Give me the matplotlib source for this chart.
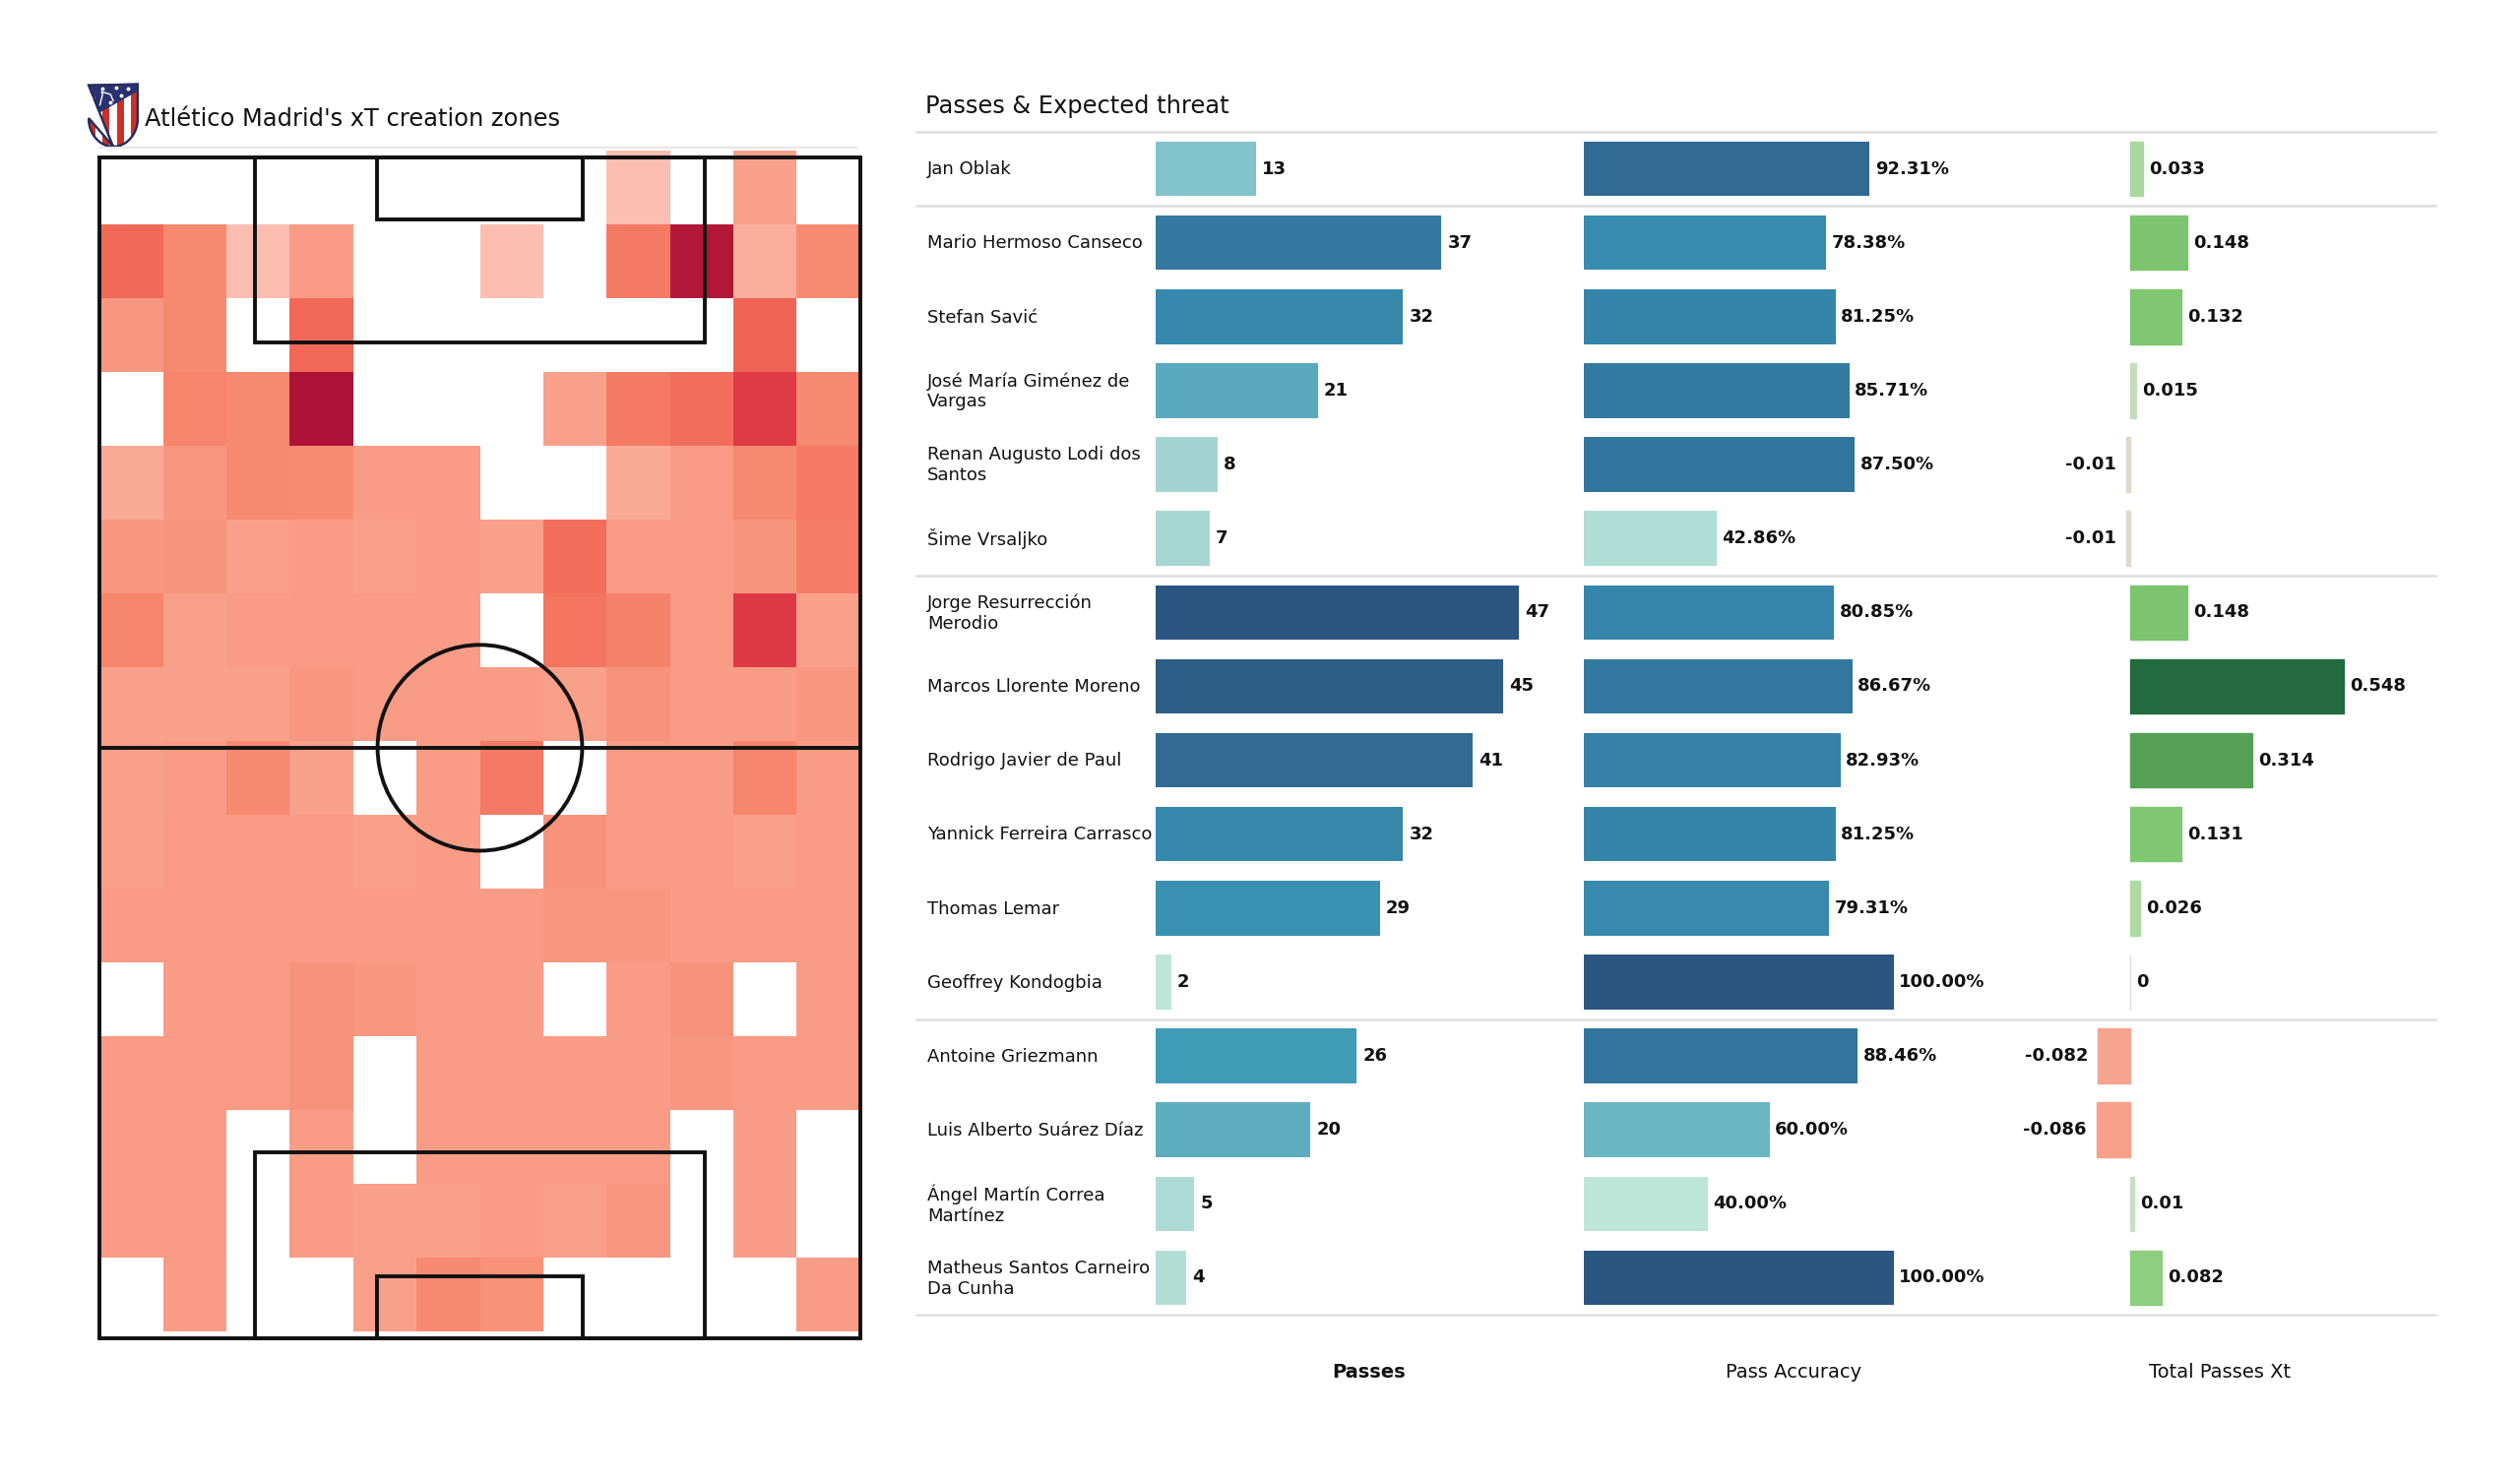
import numpy as np
import matplotlib
matplotlib.use("Agg")
import matplotlib.pyplot as plt
from matplotlib.colors import LinearSegmentedColormap, TwoSlopeNorm, Normalize
from matplotlib.patches import Rectangle, Circle, Polygon
from matplotlib.lines import Line2D
import matplotlib.transforms as mtransforms

# ---------------- data ----------------
N = np.nan
# xT created per zone (rows: top of the pitch -> bottom, cols: left -> right)
zone_xt = np.array([
    [N, N, N, N, N, N, N, N, 0.03, N, 0.18, N],
    [0.52, 0.31, 0.03, 0.20, N, N, 0.03, N, 0.42, 0.97, 0.10, 0.30],
    [0.23, 0.31, N, 0.52, N, N, N, N, N, N, 0.54, N],
    [N, 0.34, 0.31, 1.00, N, N, N, 0.18, 0.42, 0.49, 0.75, 0.31],
    [0.13, 0.23, 0.31, 0.30, 0.20, 0.20, N, N, 0.13, 0.21, 0.31, 0.42],
    [0.23, 0.24, 0.18, 0.20, 0.18, 0.20, 0.18, 0.49, 0.20, 0.21, 0.24, 0.40],
    [0.34, 0.18, 0.20, 0.21, 0.20, 0.20, N, 0.45, 0.36, 0.20, 0.76, 0.18],
    [0.18, 0.18, 0.18, 0.23, 0.20, 0.20, 0.20, 0.18, 0.25, 0.20, 0.20, 0.23],
    [0.18, 0.20, 0.31, 0.18, N, 0.20, 0.42, N, 0.21, 0.20, 0.34, 0.20],
    [0.18, 0.21, 0.20, 0.20, 0.18, 0.20, N, 0.25, 0.20, 0.20, 0.18, 0.20],
    [0.21, 0.21, 0.21, 0.20, 0.20, 0.20, 0.20, 0.23, 0.23, 0.20, 0.21, 0.20],
    [N, 0.20, 0.21, 0.25, 0.23, 0.21, 0.20, N, 0.21, 0.25, N, 0.21],
    [0.21, 0.21, 0.21, 0.25, N, 0.20, 0.20, 0.20, 0.20, 0.23, 0.21, 0.20],
    [0.21, 0.21, N, 0.20, N, 0.20, 0.20, 0.20, 0.20, N, 0.20, N],
    [0.21, 0.21, N, 0.20, 0.18, 0.18, 0.20, 0.18, 0.23, N, 0.20, N],
    [N, 0.20, N, N, 0.18, 0.31, 0.26, N, N, N, N, 0.20],
])

players = [
    "Jan Oblak", "Mario Hermoso Canseco", "Stefan Savić",
    "José María Giménez de\nVargas", "Renan Augusto Lodi dos\nSantos",
    "Šime Vrsaljko", "Jorge Resurrección\nMerodio", "Marcos Llorente Moreno",
    "Rodrigo Javier de Paul", "Yannick Ferreira Carrasco", "Thomas Lemar",
    "Geoffrey Kondogbia", "Antoine Griezmann", "Luis Alberto Suárez Díaz",
    "Ángel Martín Correa\nMartínez", "Matheus Santos Carneiro\nDa Cunha",
]
passes = [13, 37, 32, 21, 8, 7, 47, 45, 41, 32, 29, 2, 26, 20, 5, 4]
pass_accuracy = [92.31, 78.38, 81.25, 85.71, 87.50, 42.86, 80.85, 86.67,
                 82.93, 81.25, 79.31, 100.00, 88.46, 60.00, 40.00, 100.00]
passes_xt = [0.033, 0.148, 0.132, 0.015, -0.01, -0.01, 0.148, 0.548,
             0.314, 0.131, 0.026, 0, -0.082, -0.086, 0.01, 0.082]
group_bounds = [-0.5, 0.5, 5.5, 11.5, 15.5]
column_titles = ["Passes", "Pass Accuracy", "Total Passes Xt"]
left_title = "Atlético Madrid's xT creation zones"
right_title = "Passes & Expected threat"

# ---------------- styles ----------------
reds = LinearSegmentedColormap.from_list("zones", [
    (0.00, "#fdc4b8"), (0.10, "#fbae9b"), (0.18, "#f9a08a"), (0.25, "#f8937b"),
    (0.33, "#f7866c"), (0.42, "#f47a64"), (0.50, "#f26c5a"), (0.60, "#ee5a4d"),
    (0.75, "#df3b45"), (1.00, "#ae1236")])
blues = LinearSegmentedColormap.from_list("blues", [
    (0.00, "#bde5d8"), (0.05, "#b0dcd7"), (0.13, "#a4d5d2"), (0.24, "#83c3cc"),
    (0.33, "#6cb6c3"), (0.42, "#5aabbe"), (0.53, "#3f9bb6"), (0.60, "#3a91b1"),
    (0.67, "#3688ad"), (0.78, "#33789e"), (0.87, "#316b93"), (0.96, "#2c5e87"),
    (1.00, "#2b5682")])
xt_cmap = LinearSegmentedColormap.from_list("xt", [
    (0.00, "#f26c5a"), (0.28, "#f7a08a"), (0.47, "#e3d6c6"), (0.50, "#dcdcd0"),
    (0.51, "#c9e0c0"), (0.53, "#a9d79c"), (0.575, "#8dcf7e"), (0.635, "#7cc46e"),
    (0.787, "#56a055"), (1.00, "#236b3e")])

W, H = 2560, 1504
fig = plt.figure(figsize=(25.6, 15.04), dpi=100)
fig.patch.set_facecolor("white")


def add_axes_px(left, top, right, bottom):
    return fig.add_axes([left / W, 1 - bottom / H, (right - left) / W, (bottom - top) / H])


def fx(px):
    return px / W


def fy(py):
    return 1 - py / H


# ---------------- pitch + heatmap ----------------
L, Wd = 105.0, 68.0
axp = add_axes_px(90, 145, 885, 1371.4)
axp.set_xlim(-1, 69)
axp.set_ylim(-1, 106.3)
axp.axis("off")

x_edges = np.linspace(0, Wd, zone_xt.shape[1] + 1)
y_edges = np.linspace(L, 0, zone_xt.shape[0] + 1) + 0.6
axp.pcolormesh(x_edges, y_edges, np.ma.masked_invalid(zone_xt), cmap=reds,
               vmin=0, vmax=1, zorder=1, shading="flat")

lc, lw = "#111111", 2.8
axp.add_patch(Rectangle((0, 0), Wd, L, fill=False, ec=lc, lw=lw, zorder=3))
axp.plot([0, Wd], [L / 2, L / 2], color=lc, lw=lw, zorder=3)
axp.add_patch(Circle((Wd / 2, L / 2), 9.15, fill=False, ec=lc, lw=lw, zorder=3))
for y0, d in [(0, 1), (L, -1)]:
    pw, ph = 40.32, 16.5
    axp.add_patch(Rectangle((Wd / 2 - pw / 2, y0), pw, d * ph, fill=False, ec=lc, lw=lw, zorder=3))
    sw, sh = 18.32, 5.5
    axp.add_patch(Rectangle((Wd / 2 - sw / 2, y0), sw, d * sh, fill=False, ec=lc, lw=lw, zorder=3))

fig.add_artist(Line2D([fx(101), fx(870)], [fy(150), fy(150)], color="#e6e6e6", lw=1.5))

# ---------------- logo ----------------
axl = add_axes_px(88, 84, 142, 150)
axl.set_xlim(0, 1)
axl.set_ylim(0, 1.22)
axl.axis("off")
th = np.linspace(0, np.pi / 2, 30)
right_side = np.column_stack([0.5 + 0.46 * np.cos(th), 0.55 - 0.53 * np.sin(th)])
left_side = np.column_stack([0.5 - 0.46 * np.cos(th[::-1]), 0.55 - 0.53 * np.sin(th[::-1])])
shield_pts = np.vstack([[[0.04, 1.17], [0.96, 1.19]], right_side, left_side[::-1]])
shield = Polygon(shield_pts, closed=True, fc="white", ec="#252d5f", lw=1.6, zorder=1)
axl.add_patch(shield)
sx = np.linspace(0.04, 0.96, 8)
for k in range(7):
    r = Rectangle((sx[k], 0), sx[k + 1] - sx[k], 1.2,
                  fc="#cc3128" if k % 2 == 0 else "white", ec="none", zorder=2)
    axl.add_patch(r)
    r.set_clip_path(shield)
blue = Polygon([[0, 1.25], [1, 1.25], [1, 1.08], [0, 0.52]], closed=True,
               fc="#2a3370", ec="none", zorder=3)
axl.add_patch(blue)
blue.set_clip_path(shield)
for (px_, py_) in [(0.12, 0.72), (0.12, 0.95), (0.3, 1.1), (0.55, 1.12), (0.78, 1.1), (0.45, 0.85), (0.65, 0.98)]:
    axl.plot(px_, py_, "o", ms=1.8, color="white", zorder=4)
axl.plot([0.25, 0.3, 0.28, 0.45, 0.5], [0.8, 1.0, 1.05, 1.0, 0.88], color="white", lw=1.0, zorder=4)
axl.add_patch(Polygon(shield_pts, closed=True, fill=False, ec="#252d5f", lw=1.6, zorder=5))

fig.text(fx(147), fy(128), left_title, fontsize=17.4, ha="left", va="baseline", color="#111111")

# ---------------- table ----------------
fig.text(fx(940), fy(115), right_title, fontsize=17.4, ha="left", va="baseline", color="#111111")
top, bottom = 134, 1336
rows = np.arange(len(players))

axbg = add_axes_px(931, top, 2474, bottom)
axbg.set_xlim(0, 1)
axbg.set_ylim(15.5, -0.5)
axbg.axis("off")
for yb in group_bounds:
    axbg.axhline(yb, color="#dedede", lw=1.8, clip_on=False)
tr = mtransforms.blended_transform_factory(axbg.transAxes, axbg.transData)
for i, name in enumerate(players):
    axbg.text(11 / (2474 - 931), i + 0.01, name, transform=tr, fontsize=13, ha="left",
              va="center", color="#111111")

pp_unit, acc_unit, xt_unit = 7.85, 3.151, 396.4
ax1 = add_axes_px(1174, top, 1174 + 54 * pp_unit, bottom)
ax1.set_xlim(0, 54)
ax2 = add_axes_px(1608.5, top, 1608.5 + 140 * acc_unit, bottom)
ax2.set_xlim(0, 140)
ax3 = add_axes_px(2163.6 - 0.3 * xt_unit, top, 2163.6 + 0.78 * xt_unit, bottom)
ax3.set_xlim(-0.3, 0.78)
for a in (ax1, ax2, ax3):
    a.set_ylim(15.5, -0.5)
    a.axis("off")

bh = 0.74
pn = Normalize(min(passes), max(passes))
ax1.barh(rows, passes, height=bh, color=[blues(pn(v)) for v in passes], zorder=2)
for i, v in enumerate(passes):
    ax1.annotate(str(v), (v, i), xytext=(4.5, 0), textcoords="offset points",
                 ha="left", va="center", fontsize=13, fontweight="bold", color="#111111")

an = Normalize(min(pass_accuracy), max(pass_accuracy))
ax2.barh(rows, pass_accuracy, height=bh, color=[blues(an(v)) for v in pass_accuracy], zorder=2)
for i, v in enumerate(pass_accuracy):
    ax2.annotate(f"{v:.2f}%", (v, i), xytext=(4, 0), textcoords="offset points",
                 ha="left", va="center", fontsize=13, fontweight="bold", color="#111111")

xn = TwoSlopeNorm(vcenter=0, vmin=-0.2, vmax=max(passes_xt))
xcols = [xt_cmap(xn(v)) for v in passes_xt]
ax3.barh(rows, passes_xt, height=bh, color=xcols, edgecolor=xcols, lw=1.0, zorder=2)
for i, v in enumerate(passes_xt):
    if v < 0:
        ax3.annotate(f"{v:g}", (v, i), xytext=(-7, 0), textcoords="offset points",
                     ha="right", va="center", fontsize=13, fontweight="bold", color="#111111")
    else:
        ax3.annotate(f"{v:g}", (v, i), xytext=(4.5, 0), textcoords="offset points",
                     ha="left", va="center", fontsize=13, fontweight="bold", color="#111111")

for (xpx, title, wgt) in zip([1391, 1822, 2255], column_titles, ["bold", "normal", "normal"]):
    fig.text(fx(xpx), fy(1395), title, fontsize=14, fontweight=wgt, ha="center",
             va="center", color="#111111")

fig.savefig("out.png", dpi=100, facecolor="white")
